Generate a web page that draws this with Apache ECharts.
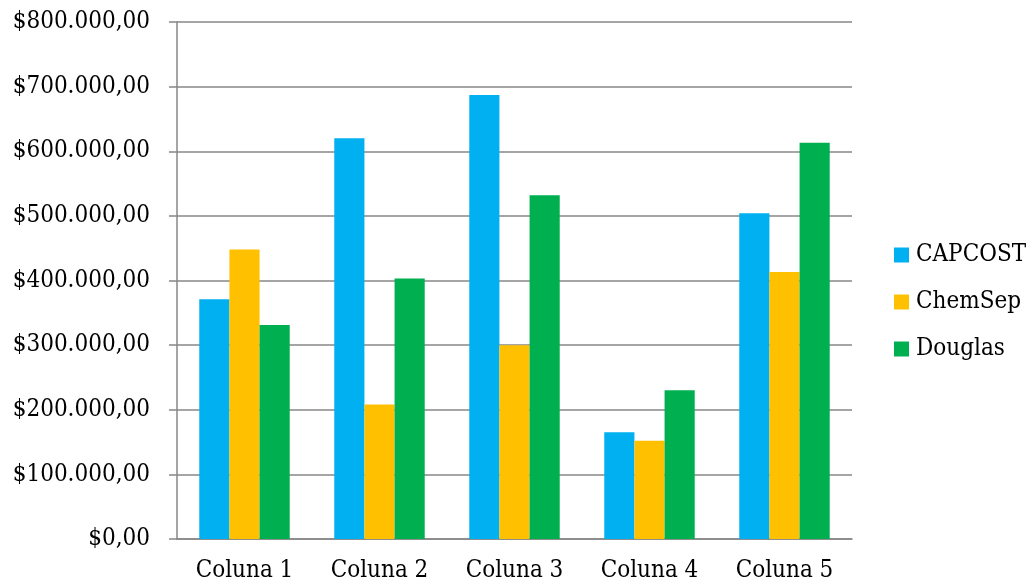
<!DOCTYPE html>
<html>
<head>
<meta charset="utf-8">
<script src="https://cdn.jsdelivr.net/npm/echarts@6/dist/echarts.min.js"></script>
<style>
  html, body { margin: 0; padding: 0; background: #fff; }
  #chart { width: 1027px; height: 587px; }
</style>
</head>
<body>
<div id="chart"></div>
<script>
// Cost estimates per column, by method
const categories = ['Coluna 1', 'Coluna 2', 'Coluna 3', 'Coluna 4', 'Coluna 5'];
const capcost = [371000, 620000, 687000, 165000, 504000];
const chemsep = [448000, 208000, 300000, 152000, 413000];
const douglas = [331000, 403000, 532000, 230000, 613000];
const seriesNames = ['CAPCOST', 'ChemSep', 'Douglas'];
const seriesColors = ['#00B0F0', '#FFC000', '#00B050'];

// "$700.000,00" style currency labels
function money(v) {
  const s = String(Math.round(v)).replace(/\B(?=(\d{3})+(?!\d))/g, '.');
  return '$' + s + ',00';
}

const font = '"DejaVu Serif Condensed", "DejaVu Serif", serif';
const fontSize = 24;
const gridColor = '#878787';

const chart = echarts.init(document.getElementById('chart'));
chart.setOption({
  animation: false,
  textStyle: { fontFamily: font },
  grid: { left: 177, right: 175, top: 22, bottom: 48 },
  legend: {
    orient: 'vertical',
    left: 889,
    top: 236,
    icon: 'rect',
    itemWidth: 15,
    itemHeight: 15,
    itemGap: 19,
    textStyle: { fontFamily: font, fontSize: fontSize, color: '#000', lineHeight: 28, padding: [0, 0, 0, 2] },
    data: seriesNames
  },
  xAxis: {
    type: 'category',
    data: categories,
    axisLine: { lineStyle: { color: gridColor, width: 1.5 } },
    axisTick: { length: 6, lineStyle: { color: gridColor, width: 1.5 } },
    axisLabel: { fontFamily: font, fontSize: fontSize, color: '#000', margin: 20 }
  },
  yAxis: {
    type: 'value',
    min: 0,
    max: 800000,
    interval: 100000,
    axisLine: { show: true, lineStyle: { color: gridColor, width: 1.5 } },
    axisTick: { show: true, length: 8, lineStyle: { color: gridColor, width: 1.5 } },
    splitLine: { lineStyle: { color: gridColor, width: 1.5 } },
    axisLabel: { fontFamily: font, fontSize: fontSize, color: '#000', margin: 27, formatter: money }
  },
  series: [capcost, chemsep, douglas].map((d, i) => ({
    name: seriesNames[i],
    type: 'bar',
    data: d,
    barGap: '0%',
    barCategoryGap: '33%',
    itemStyle: { color: seriesColors[i] }
  }))
});
</script>
</body>
</html>
